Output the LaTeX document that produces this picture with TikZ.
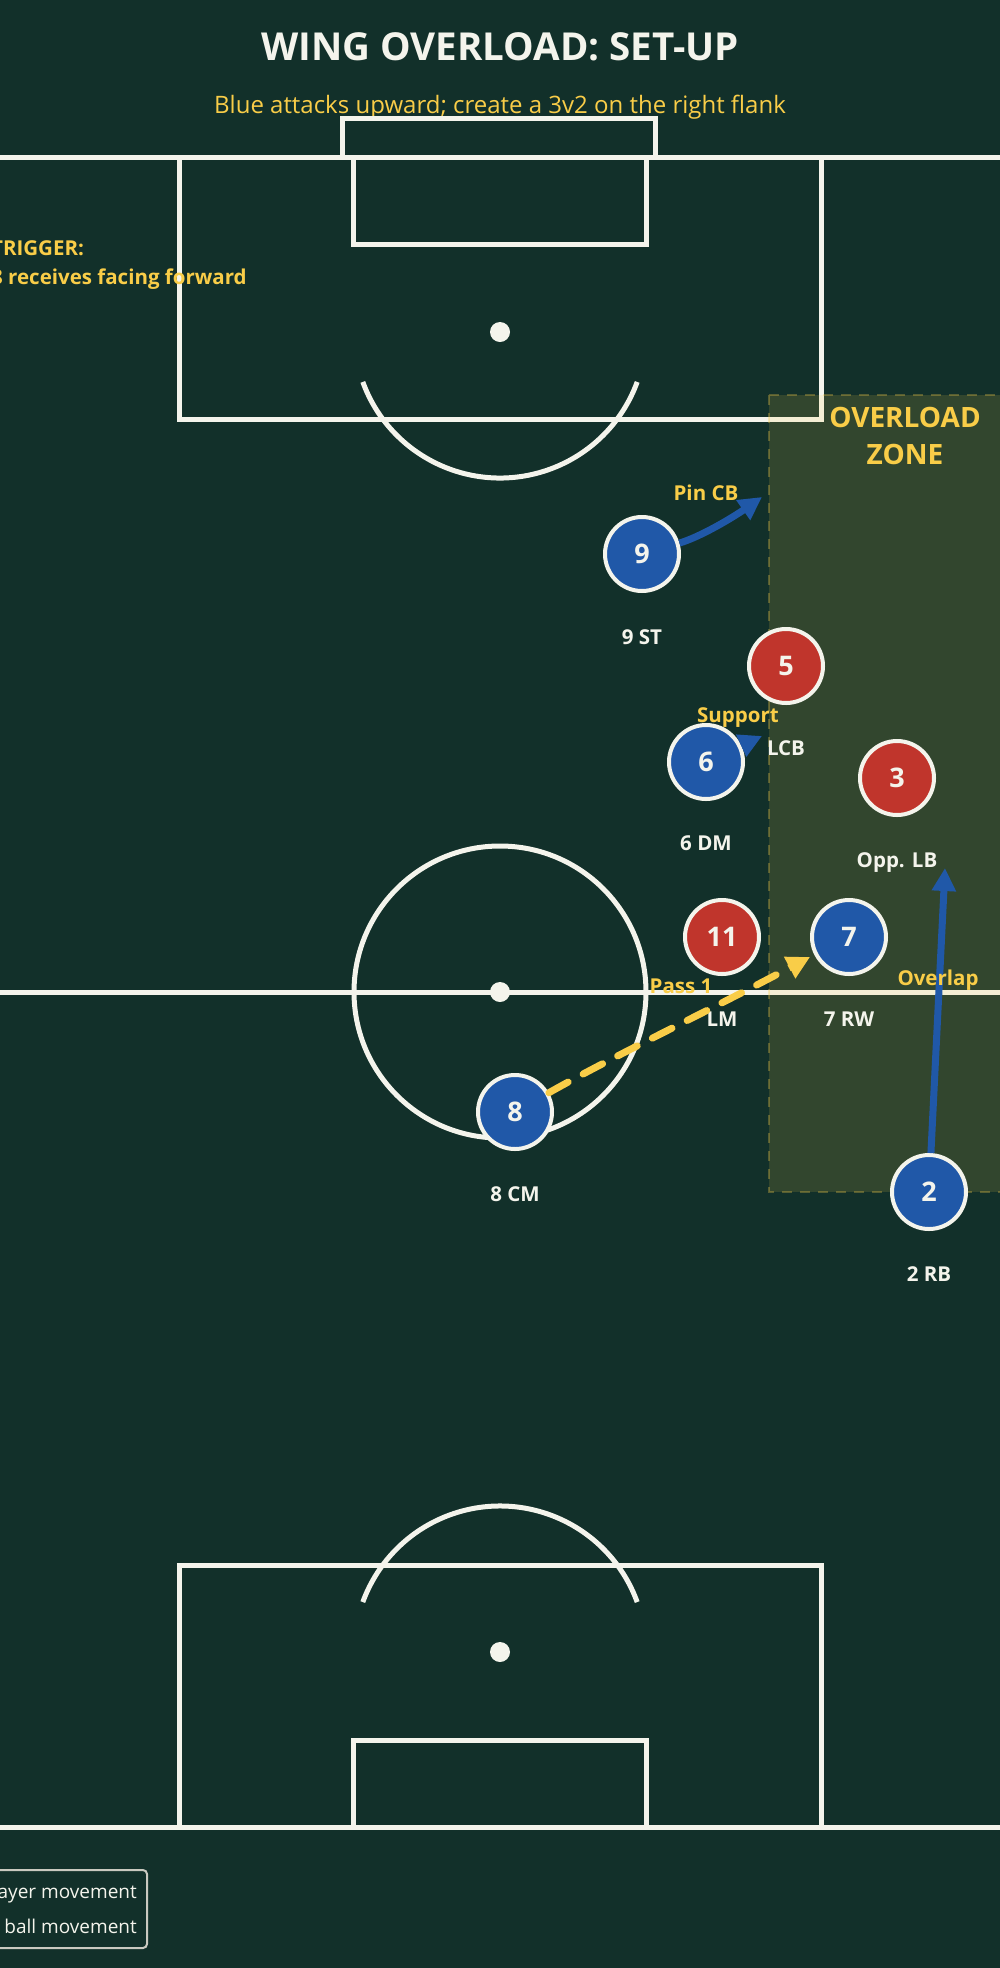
\documentclass[tikz,border=0pt]{standalone}
\usepackage{fontspec}
\setmainfont{Open Sans}
\usetikzlibrary{arrows.meta}
\definecolor{bg}{HTML}{12302A}
\definecolor{linec}{HTML}{F4F4EC}
\definecolor{yellowc}{HTML}{F9CD48}
\definecolor{blueP}{HTML}{2058A8}
\definecolor{redP}{HTML}{C0352C}
\definecolor{legc}{HTML}{C9C9C0}
\tikzset{
  pline/.style={draw=linec, line width=5pt},
  spot/.style={fill=linec},
  player/.style={circle, draw=linec, line width=4pt, minimum size=74pt, inner sep=0pt,
    font=\bfseries\fontsize{27}{27}\selectfont, text=linec, text height=19.3pt, text depth=0pt},
  blueman/.style={player, fill=blueP},
  redman/.style={player, fill=redP},
  plabel/.style={font=\bfseries\fontsize{20.5}{20.5}\selectfont, text=linec, text height=14.6pt, text depth=0pt, inner sep=0pt},
  ylabel/.style={plabel, text=yellowc},
  move/.style={draw=blueP, line width=7pt, -{Triangle[length=23pt,width=23pt]}},
  ballmove/.style={draw=yellowc, line width=7pt, line cap=round, dash pattern=on 22pt off 17pt},
  balltip/.style={draw=yellowc, line width=7pt, -{Triangle[length=23pt,width=23pt]}},
  zonebox/.style={fill=yellowc, fill opacity=0.14, draw=yellowc, draw opacity=0.3, line width=2.5pt, dash pattern=on 10pt off 8pt},
  legtext/.style={font=\fontsize{19}{19}\selectfont, text=linec, text height=13.6pt, text depth=0pt, inner sep=0pt, anchor=east}
}
\begin{document}
\begin{tikzpicture}[x=1pt,y=-1pt]
\useasboundingbox (0,0) rectangle (1000,1968);
\clip (0,0) rectangle (1000,1968);
\fill[bg] (0,0) rectangle (1000,1968);

% titles
\node[font=\bfseries\fontsize{38.5}{38.5}\selectfont, text=linec, text height=27.5pt, text depth=0pt, inner sep=0pt] (title) at (500,47) {WING OVERLOAD: SET-UP};
\node[font=\fontsize{24}{24}\selectfont, text=yellowc, text height=17.1pt, text depth=0pt, inner sep=0pt] (subtitle) at (500,105) {Blue attacks upward; create a 3v2 on the right flank};

% pitch - top
\draw[pline] (342,157) -- (342,118) -- (655,118) -- (655,157);
\draw[pline] (-20,157) -- (1020,157);
\draw[pline] (179,157) rectangle (821,419);
\draw[pline] (353,157) rectangle (646,244);
\fill[spot] (500,332) circle[radius=10pt];
\draw[pline] ([shift={(200:146pt)}]500,332) arc[start angle=200, end angle=340, radius=146pt];

% halfway
\draw[pline] (-20,992) -- (1020,992);
\draw[pline] (500,992) circle[radius=146pt];
\fill[spot] (500,992) circle[radius=10pt];

% pitch - bottom
\draw[pline] (-20,1827) -- (1020,1827);
\draw[pline] (179,1565) rectangle (821,1827);
\draw[pline] (353,1740) rectangle (646,1827);
\fill[spot] (500,1652) circle[radius=10pt];
\draw[pline] ([shift={(20:146pt)}]500,1652) arc[start angle=20, end angle=160, radius=146pt];

% overload zone
\draw[zonebox] (769,395) rectangle (1012,1192);
\node[font=\bfseries\fontsize{28}{28}\selectfont, text=yellowc, text height=20pt, text depth=0pt, inner sep=0pt] (zone1) at (905,417) {OVERLOAD};
\node[font=\bfseries\fontsize{28}{28}\selectfont, text=yellowc, text height=20pt, text depth=0pt, inner sep=0pt] (zone2) at (905,454) {ZONE};

% trigger note
\node[ylabel, anchor=west] (trig1) at (-9,248) {TRIGGER:};
\node[ylabel, anchor=west] (trig2) at (-9,277) {8 receives facing forward};

% players
\node[blueman] (p9) at (642,554) {9};
\node[redman] (r5) at (786,666) {5};
\node[blueman] (p6) at (706,762) {6};
\node[redman] (r3) at (897,778) {3};
\node[redman] (r11) at (722,937) {11};
\node[blueman] (p7) at (849,937) {7};
\node[blueman] (p8) at (515,1112) {8};
\node[blueman] (p2) at (929,1192) {2};

\node[plabel] (l9) at (642,637) {9 ST};
\node[plabel] (l5) at (786,748) {LCB};
\node[plabel] (l6) at (706,843) {6 DM};
\node[plabel] (l3) at (897,860) {Opp. LB};
\node[plabel] (l11) at (722,1019) {LM};
\node[plabel] (l7) at (849,1019) {7 RW};
\node[plabel] (l8) at (515,1194) {8 CM};
\node[plabel] (l2) at (929,1274) {2 RB};

% movement arrows
\coordinate (pinend) at (762,497);
\coordinate (supend) at (762,736);
\coordinate (ovlend) at (945,868);
\coordinate (passpre) at (789,968);
\coordinate (passend) at (810,957);
\draw[move] (p9) .. controls (700,537) and (732,518) .. (pinend);
\draw[move] (p6) -- (supend);
\draw[move] (p2) -- (ovlend);
\draw[ballmove] (p8) .. controls (610,1058) and (720,1005) .. (passpre);
\draw[balltip] (passpre) -- (passend);

\node[ylabel] (lpin) at (706,493) {Pin CB};
\node[ylabel] (lsup) at (738,715) {Support};
\node[ylabel] (lovl) at (938,978) {Overlap};
\node[ylabel] (lpass) at (681,986) {Pass 1};

% legend
\draw[draw=legc, line width=2pt, rounded corners=4pt] (-20,1870) rectangle (147,1948);
\node[legtext] (leg1) at (137,1892) {player movement};
\node[legtext] (leg2) at (137,1927) {ball movement};
\end{tikzpicture}
\end{document}
